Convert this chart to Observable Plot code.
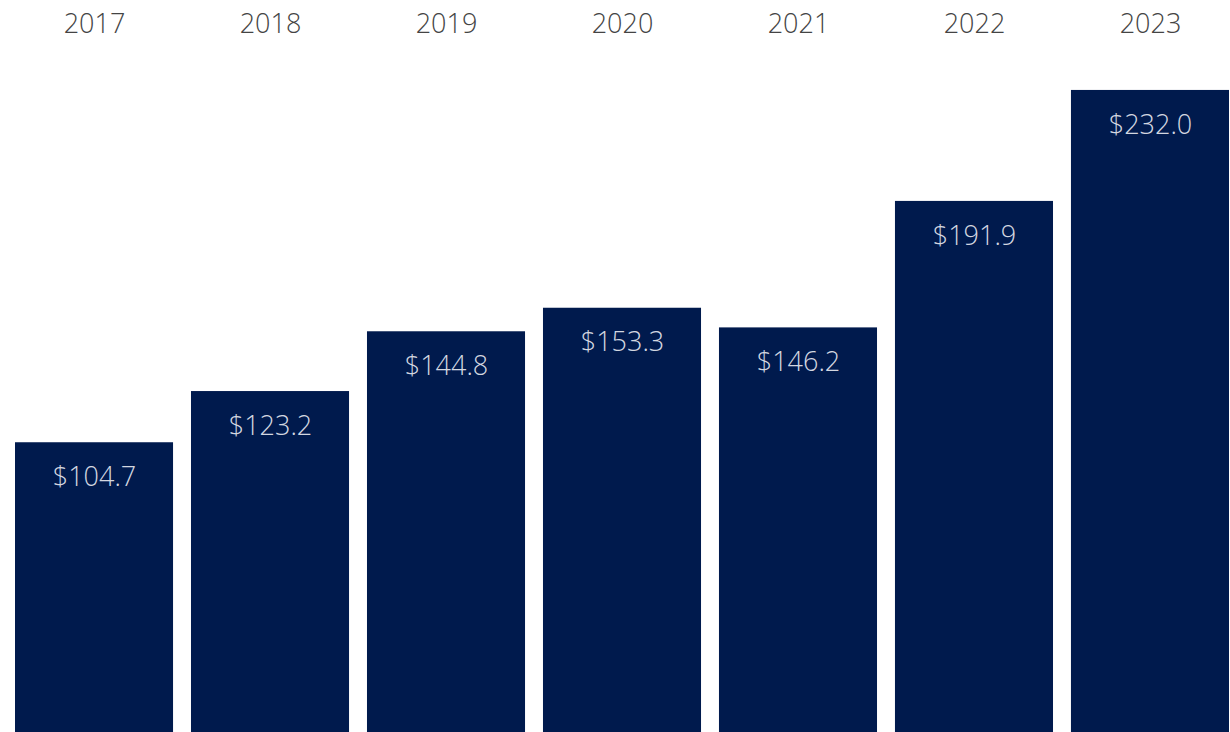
<!DOCTYPE html>
<html>
<head>
<meta charset="utf-8">
<script src="https://cdn.jsdelivr.net/npm/d3@7"></script>
<script src="https://cdn.jsdelivr.net/npm/@observablehq/plot@0.6"></script>
<style>
  html, body { margin: 0; padding: 0; background: #ffffff; }
  #chart { width: 1230px; height: 732px; overflow: hidden; }
</style>
</head>
<body>
<div id="chart"></div>
<script>
const years = ["2017", "2018", "2019", "2020", "2021", "2022", "2023"];
const values = [104.7, 123.2, 144.8, 153.3, 146.2, 191.9, 232.0];

const data = years.map((y, i) => ({year: y, value: values[i]}));

const chart = Plot.plot({
  width: 1230,
  height: 732,
  marginLeft: 15,
  marginRight: 1,
  marginTop: 0,
  marginBottom: 0,
  style: {fontFamily: "'Open Sans', Lato, sans-serif", background: "#ffffff"},
  x: {domain: years, paddingInner: 0.102, paddingOuter: 0, round: false, axis: null},
  y: {domain: [0, 264.5], axis: null},
  marks: [
    Plot.barY(data, {x: "year", y: "value", fill: "#001A4D"}),
    Plot.text(data, {
      x: "year", frameAnchor: "top", dy: 23.5, lineAnchor: "middle",
      text: "year", fill: "#444444", fontSize: 27, fontWeight: 300
    }),
    Plot.text(data, {
      x: "year", y: "value", dy: 34.5, lineAnchor: "middle",
      text: d => "$" + d.value.toFixed(1), fill: "#d3d7e0", fontSize: 27, fontWeight: 300
    })
  ]
});
document.getElementById("chart").appendChild(chart);
</script>
</body>
</html>
